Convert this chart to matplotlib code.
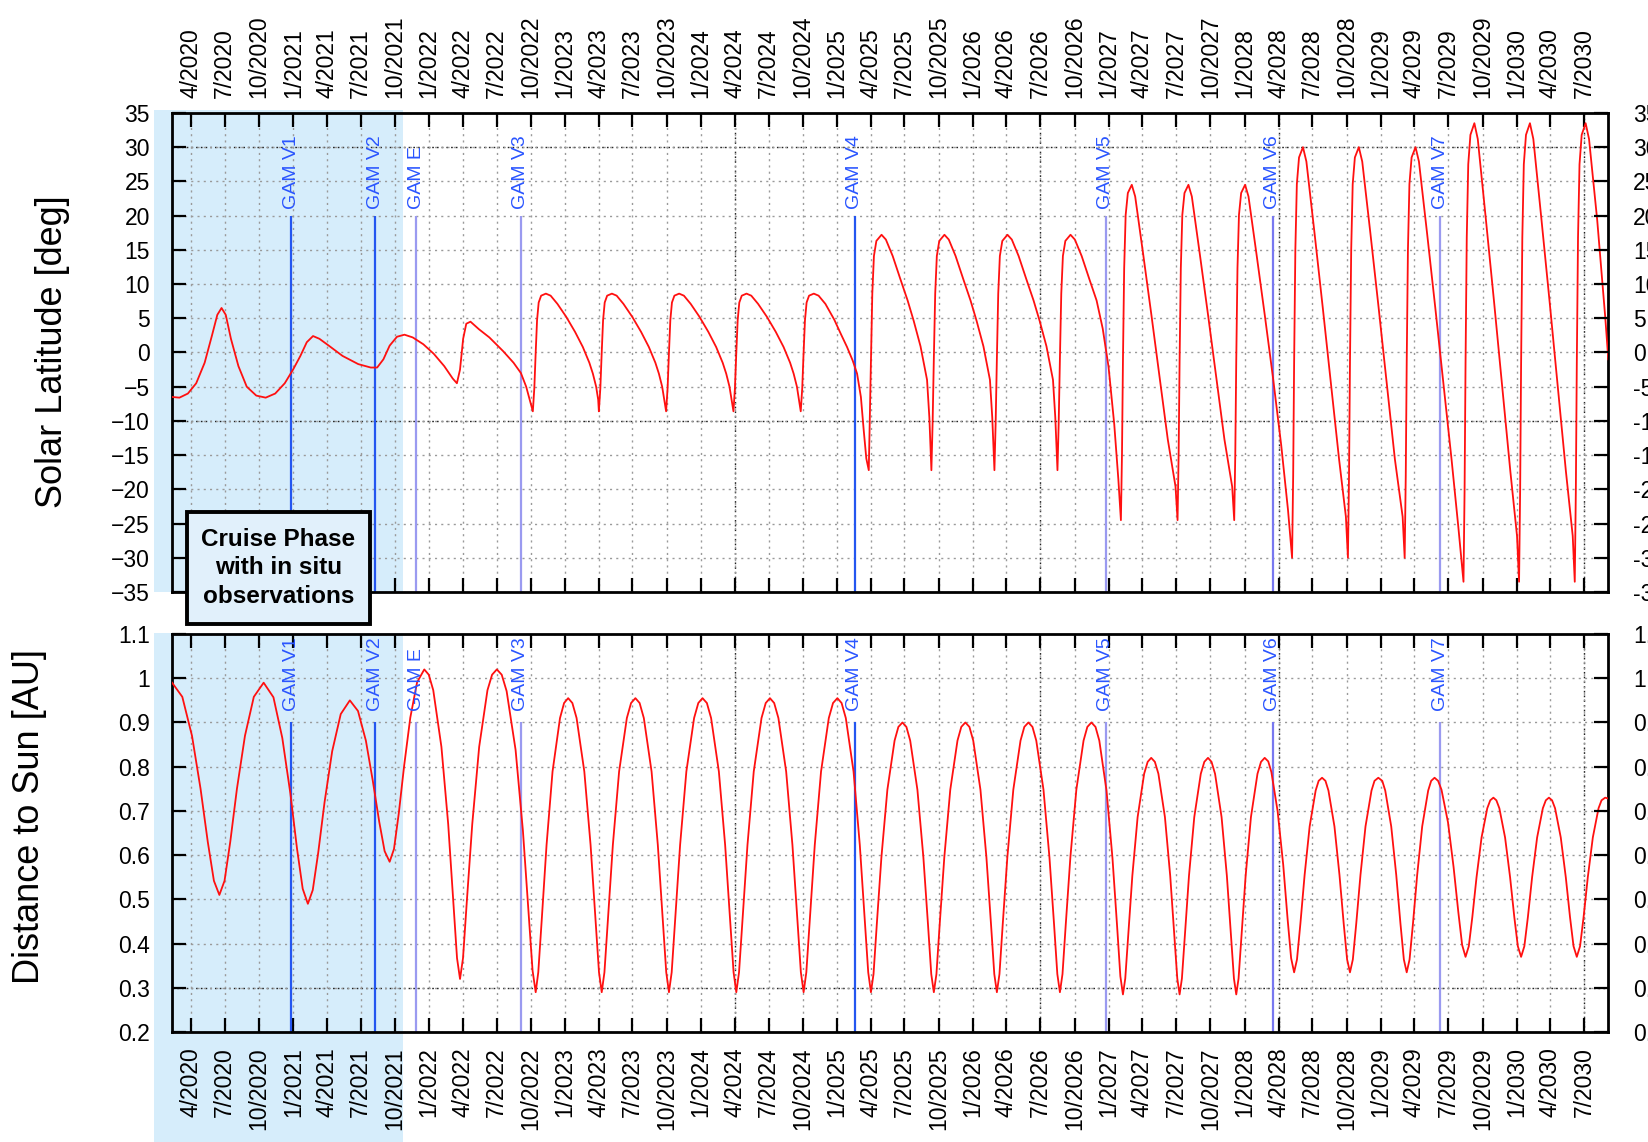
import matplotlib
matplotlib.use("Agg")
import matplotlib.pyplot as plt
import matplotlib.dates as mdates
from matplotlib.patches import Rectangle
from datetime import datetime, timedelta

plt.rcParams['font.family'] = ['Liberation Sans', 'DejaVu Sans']

# ---------------- data (time in decimal years) ----------------
lat_year = [
    2020.110, 2020.164, 2020.226, 2020.287, 2020.349, 2020.403, 2020.442, 2020.473,
    2020.504, 2020.542, 2020.597, 2020.658, 2020.728, 2020.797, 2020.867, 2020.937,
    2020.998, 2021.052, 2021.099, 2021.145, 2021.192, 2021.261, 2021.362, 2021.478,
    2021.570, 2021.617, 2021.663, 2021.709, 2021.763, 2021.818, 2021.879, 2021.957,
    2022.034, 2022.111, 2022.173, 2022.204, 2022.227, 2022.250, 2022.273, 2022.304,
    2022.366, 2022.443, 2022.544, 2022.621, 2022.675, 2022.714,
    2022.763, 2022.774, 2022.784, 2022.794, 2022.806, 2022.824, 2022.859, 2022.894,
    2022.944, 2023.009, 2023.074, 2023.131, 2023.179, 2023.205, 2023.229, 2023.244,
    2023.249, 2023.260, 2023.270, 2023.280, 2023.292, 2023.310, 2023.345, 2023.380,
    2023.430, 2023.495, 2023.560, 2023.617, 2023.665, 2023.691, 2023.715, 2023.730,
    2023.744, 2023.755, 2023.765, 2023.775, 2023.787, 2023.805, 2023.840, 2023.875,
    2023.925, 2023.990, 2024.055, 2024.112, 2024.160, 2024.186, 2024.210, 2024.225,
    2024.239, 2024.250, 2024.260, 2024.270, 2024.282, 2024.300, 2024.335, 2024.370,
    2024.420, 2024.485, 2024.550, 2024.607, 2024.655, 2024.681, 2024.705, 2024.720,
    2024.733, 2024.744, 2024.754, 2024.764, 2024.776, 2024.794, 2024.829, 2024.864,
    2024.914, 2024.979, 2025.030, 2025.073, 2025.115, 2025.147, 2025.175, 2025.196,
    2025.215,
    2025.233, 2025.240, 2025.249, 2025.259, 2025.271, 2025.289, 2025.327, 2025.359,
    2025.409, 2025.466, 2025.519, 2025.564, 2025.614, 2025.662, 2025.679,
    2025.694, 2025.703, 2025.712, 2025.722, 2025.734, 2025.752, 2025.790, 2025.822,
    2025.872, 2025.929, 2025.982, 2026.027, 2026.077, 2026.125, 2026.142,
    2026.158, 2026.167, 2026.176, 2026.186, 2026.198, 2026.216, 2026.254, 2026.286,
    2026.336, 2026.393, 2026.446, 2026.491, 2026.541, 2026.589, 2026.606,
    2026.622, 2026.631, 2026.640, 2026.650, 2026.662, 2026.680, 2026.718, 2026.750,
    2026.800, 2026.857, 2026.910, 2026.955, 2026.998, 2027.040, 2027.070,
    2027.089, 2027.097, 2027.104, 2027.113, 2027.124, 2027.140, 2027.169, 2027.194,
    2027.254, 2027.314, 2027.374, 2027.434, 2027.491,
    2027.506, 2027.514, 2027.521, 2027.530, 2027.541, 2027.557, 2027.586, 2027.611,
    2027.671, 2027.731, 2027.791, 2027.851, 2027.908,
    2027.923, 2027.931, 2027.938, 2027.947, 2027.958, 2027.974, 2028.003, 2028.028,
    2028.088, 2028.148, 2028.208, 2028.268, 2028.318,
    2028.348, 2028.356, 2028.363, 2028.372, 2028.383, 2028.399, 2028.428, 2028.453,
    2028.513, 2028.573, 2028.633, 2028.693, 2028.743,
    2028.758, 2028.766, 2028.773, 2028.782, 2028.793, 2028.809, 2028.838, 2028.863,
    2028.923, 2028.983, 2029.043, 2029.103, 2029.160,
    2029.175, 2029.183, 2029.190, 2029.199, 2029.210, 2029.226, 2029.255, 2029.280,
    2029.340, 2029.400, 2029.460, 2029.520, 2029.570,
    2029.608, 2029.616, 2029.623, 2029.632, 2029.643, 2029.659, 2029.688, 2029.713,
    2029.773, 2029.833, 2029.893, 2029.953, 2030.002,
    2030.017, 2030.025, 2030.032, 2030.041, 2030.052, 2030.068, 2030.097, 2030.122,
    2030.182, 2030.242, 2030.302, 2030.362, 2030.412,
    2030.427, 2030.435, 2030.442, 2030.451, 2030.462, 2030.478, 2030.507, 2030.532,
    2030.592, 2030.652, 2030.674,
]
lat_deg = [
    -6.5, -6.6, -6.0, -4.5, -1.5, 2.5, 5.5, 6.5,
    5.5, 2.0, -2.0, -5.0, -6.3, -6.6, -6.0, -4.5,
    -2.5, -0.5, 1.5, 2.4, 2.0, 1.0, -0.5, -1.7,
    -2.2, -2.2, -1.0, 1.0, 2.3, 2.6, 2.2, 1.2,
    -0.2, -2.0, -3.8, -4.5, -2.5, 2.0, 4.2, 4.5,
    3.4, 2.2, 0.2, -1.5, -3.0, -5.0,
    -8.6, -5.2, 0.0, 4.7, 7.3, 8.3, 8.6, 8.3,
    7.1, 5.2, 3.0, 0.8, -1.5, -3.1, -5.0, -6.9,
    -8.6, -5.2, 0.0, 4.7, 7.3, 8.3, 8.6, 8.3,
    7.1, 5.2, 3.0, 0.8, -1.5, -3.1, -5.0, -6.9,
    -8.6, -5.2, 0.0, 4.7, 7.3, 8.3, 8.6, 8.3,
    7.1, 5.2, 3.0, 0.8, -1.5, -3.1, -5.0, -6.9,
    -8.6, -5.2, 0.0, 4.7, 7.3, 8.3, 8.6, 8.3,
    7.1, 5.2, 3.0, 0.8, -1.5, -3.1, -5.0, -6.9,
    -8.6, -5.2, 0.0, 4.7, 7.3, 8.3, 8.6, 8.3,
    7.1, 4.8, 2.6, 0.8, -1.2, -3.1, -6.5, -11.4,
    -15.5,
    -17.2, -10.3, -0.9, 8.6, 14.1, 16.3, 17.2, 16.5,
    14.1, 10.7, 7.6, 4.6, 0.9, -4.0, -9.5,
    -17.2, -10.3, -0.9, 8.6, 14.1, 16.3, 17.2, 16.5,
    14.1, 10.7, 7.6, 4.6, 0.9, -4.0, -9.5,
    -17.2, -10.3, -0.9, 8.6, 14.1, 16.3, 17.2, 16.5,
    14.1, 10.7, 7.6, 4.6, 0.9, -4.0, -9.5,
    -17.2, -10.3, -0.9, 8.6, 14.1, 16.3, 17.2, 16.5,
    14.1, 10.7, 7.6, 3.5, -2.1, -10.5, -18.5,
    -24.5, -14.7, -1.2, 12.3, 20.1, 23.3, 24.5, 22.8,
    14.2, 5.4, -3.7, -12.7, -19.6,
    -24.5, -14.7, -1.2, 12.3, 20.1, 23.3, 24.5, 22.8,
    14.2, 5.4, -3.7, -12.7, -19.6,
    -24.5, -14.7, -1.2, 12.3, 20.1, 23.3, 24.5, 22.8,
    14.2, 5.4, -3.7, -13.5, -23.0,
    -30.0, -18.0, -1.5, 15.0, 24.6, 28.5, 30.0, 27.9,
    17.4, 6.6, -4.5, -15.6, -24.0,
    -30.0, -18.0, -1.5, 15.0, 24.6, 28.5, 30.0, 27.9,
    17.4, 6.6, -4.5, -15.6, -24.0,
    -30.0, -18.0, -1.5, 15.0, 24.6, 28.5, 30.0, 27.9,
    17.4, 6.6, -4.5, -15.6, -25.5,
    -33.5, -20.1, -1.7, 16.8, 27.5, 31.8, 33.5, 31.2,
    19.4, 7.4, -5.0, -17.4, -26.8,
    -33.5, -20.1, -1.7, 16.8, 27.5, 31.8, 33.5, 31.2,
    19.4, 7.4, -5.0, -17.4, -26.8,
    -33.5, -20.1, -1.7, 16.8, 27.5, 31.8, 33.5, 31.2,
    19.4, 5.0, -1.0,
]

dist_year = [
    2020.110, 2020.185, 2020.256, 2020.319, 2020.372, 2020.417, 2020.457, 2020.495,
    2020.537, 2020.586, 2020.645, 2020.710, 2020.782,
    2020.854, 2020.919, 2020.978, 2021.027, 2021.069, 2021.107, 2021.143, 2021.183,
    2021.230, 2021.286, 2021.349, 2021.416,
    2021.476, 2021.534, 2021.585, 2021.632, 2021.672, 2021.709, 2021.741, 2021.776,
    2021.816, 2021.861, 2021.911, 2021.964,
    2021.997, 2022.030, 2022.090, 2022.140, 2022.178, 2022.205, 2022.227, 2022.249,
    2022.277, 2022.317, 2022.368, 2022.429, 2022.463, 2022.498,
    2022.534, 2022.570, 2022.636, 2022.690, 2022.731, 2022.761, 2022.784, 2022.803,
    2022.829, 2022.864, 2022.908, 2022.963, 2022.993, 2023.023,
    2023.054, 2023.085, 2023.142, 2023.188, 2023.224, 2023.250, 2023.270, 2023.290,
    2023.316, 2023.352, 2023.398, 2023.455, 2023.486, 2023.518,
    2023.549, 2023.580, 2023.637, 2023.683, 2023.719, 2023.745, 2023.765, 2023.785,
    2023.811, 2023.847, 2023.893, 2023.950, 2023.981, 2024.012,
    2024.044, 2024.075, 2024.132, 2024.178, 2024.214, 2024.240, 2024.260, 2024.280,
    2024.306, 2024.342, 2024.388, 2024.445, 2024.476, 2024.507,
    2024.538, 2024.569, 2024.626, 2024.672, 2024.708, 2024.734, 2024.754, 2024.774,
    2024.800, 2024.836, 2024.882, 2024.939, 2024.970, 2025.002,
    2025.033, 2025.064, 2025.121, 2025.167, 2025.203, 2025.229, 2025.249, 2025.268,
    2025.292, 2025.326, 2025.370, 2025.423, 2025.451, 2025.481,
    2025.510, 2025.538, 2025.591, 2025.635, 2025.669, 2025.693, 2025.712, 2025.731,
    2025.755, 2025.789, 2025.833, 2025.886, 2025.914, 2025.944,
    2025.974, 2026.002, 2026.055, 2026.099, 2026.133, 2026.157, 2026.176, 2026.195,
    2026.219, 2026.253, 2026.297, 2026.350, 2026.378, 2026.408,
    2026.438, 2026.466, 2026.519, 2026.563, 2026.597, 2026.621, 2026.640, 2026.659,
    2026.683, 2026.717, 2026.761, 2026.814, 2026.842, 2026.872,
    2026.902, 2026.930, 2026.983, 2027.027, 2027.061, 2027.085, 2027.104, 2027.121,
    2027.143, 2027.173, 2027.212, 2027.260, 2027.286, 2027.312,
    2027.339, 2027.365, 2027.413, 2027.452, 2027.482, 2027.504, 2027.521, 2027.538,
    2027.560, 2027.590, 2027.629, 2027.677, 2027.703, 2027.730,
    2027.756, 2027.782, 2027.830, 2027.869, 2027.899, 2027.921, 2027.938, 2027.955,
    2027.977, 2028.007, 2028.046, 2028.094, 2028.120, 2028.147,
    2028.173, 2028.196, 2028.242, 2028.283, 2028.315, 2028.341, 2028.363, 2028.384,
    2028.409, 2028.440, 2028.477, 2028.521, 2028.543, 2028.568,
    2028.593, 2028.615, 2028.659, 2028.696, 2028.727, 2028.752, 2028.773, 2028.794,
    2028.819, 2028.850, 2028.887, 2028.931, 2028.953, 2028.981,
    2029.010, 2029.032, 2029.076, 2029.113, 2029.144, 2029.169, 2029.190, 2029.211,
    2029.236, 2029.267, 2029.304, 2029.348, 2029.370, 2029.395,
    2029.421, 2029.446, 2029.494, 2029.535, 2029.570, 2029.598, 2029.623, 2029.647,
    2029.673, 2029.704, 2029.741, 2029.783, 2029.805, 2029.828,
    2029.850, 2029.872, 2029.914, 2029.951, 2029.982, 2030.008, 2030.032, 2030.056,
    2030.082, 2030.113, 2030.150, 2030.192, 2030.214, 2030.237,
    2030.260, 2030.282, 2030.324, 2030.361, 2030.392, 2030.418, 2030.442, 2030.466,
    2030.492, 2030.523, 2030.560, 2030.602, 2030.624, 2030.651, 2030.674,
]
dist_au = [
    0.990, 0.958, 0.870, 0.750, 0.630, 0.542, 0.510, 0.542,
    0.630, 0.750, 0.870, 0.958, 0.990,
    0.957, 0.865, 0.740, 0.615, 0.524, 0.490, 0.521, 0.605,
    0.720, 0.835, 0.919, 0.950,
    0.926, 0.859, 0.768, 0.676, 0.609, 0.585, 0.614, 0.694,
    0.803, 0.911, 0.991, 1.020,
    1.008, 0.973, 0.845, 0.670, 0.495, 0.367, 0.320, 0.367,
    0.495, 0.670, 0.845, 0.973, 1.008, 1.020,
    1.008, 0.971, 0.838, 0.655, 0.473, 0.339, 0.290, 0.335,
    0.456, 0.623, 0.789, 0.910, 0.944, 0.955,
    0.944, 0.910, 0.789, 0.623, 0.456, 0.335, 0.290, 0.335,
    0.456, 0.623, 0.789, 0.910, 0.944, 0.955,
    0.944, 0.910, 0.789, 0.623, 0.456, 0.335, 0.290, 0.335,
    0.456, 0.623, 0.789, 0.910, 0.944, 0.955,
    0.944, 0.910, 0.789, 0.623, 0.456, 0.335, 0.290, 0.335,
    0.456, 0.623, 0.789, 0.910, 0.944, 0.955,
    0.944, 0.910, 0.789, 0.623, 0.456, 0.335, 0.290, 0.335,
    0.456, 0.623, 0.789, 0.910, 0.944, 0.955,
    0.944, 0.910, 0.789, 0.623, 0.456, 0.335, 0.290, 0.331,
    0.443, 0.595, 0.748, 0.859, 0.890, 0.900,
    0.890, 0.859, 0.748, 0.595, 0.443, 0.331, 0.290, 0.331,
    0.443, 0.595, 0.748, 0.859, 0.890, 0.900,
    0.890, 0.859, 0.748, 0.595, 0.443, 0.331, 0.290, 0.331,
    0.443, 0.595, 0.748, 0.859, 0.890, 0.900,
    0.890, 0.859, 0.748, 0.595, 0.443, 0.331, 0.290, 0.331,
    0.443, 0.595, 0.748, 0.859, 0.890, 0.900,
    0.890, 0.859, 0.746, 0.593, 0.439, 0.326, 0.285, 0.321,
    0.419, 0.553, 0.686, 0.784, 0.811, 0.820,
    0.811, 0.784, 0.686, 0.553, 0.419, 0.321, 0.285, 0.321,
    0.419, 0.553, 0.686, 0.784, 0.811, 0.820,
    0.811, 0.784, 0.686, 0.553, 0.419, 0.321, 0.285, 0.321,
    0.419, 0.553, 0.686, 0.784, 0.811, 0.820,
    0.812, 0.788, 0.699, 0.578, 0.456, 0.367, 0.335, 0.364,
    0.445, 0.555, 0.665, 0.746, 0.768, 0.775,
    0.768, 0.746, 0.665, 0.555, 0.445, 0.364, 0.335, 0.364,
    0.445, 0.555, 0.665, 0.746, 0.768, 0.775,
    0.768, 0.746, 0.665, 0.555, 0.445, 0.364, 0.335, 0.364,
    0.445, 0.555, 0.665, 0.746, 0.768, 0.775,
    0.768, 0.748, 0.674, 0.573, 0.471, 0.397, 0.370, 0.394,
    0.460, 0.550, 0.640, 0.706, 0.724, 0.730,
    0.724, 0.706, 0.640, 0.550, 0.460, 0.394, 0.370, 0.394,
    0.460, 0.550, 0.640, 0.706, 0.724, 0.730,
    0.724, 0.706, 0.640, 0.550, 0.460, 0.394, 0.370, 0.394,
    0.460, 0.550, 0.640, 0.706, 0.724, 0.730, 0.728,
]

gam_names = ['GAM V1', 'GAM V2', 'GAM E', 'GAM V3', 'GAM V4', 'GAM V5', 'GAM V6', 'GAM V7']
gam_dates = ['2020-12-27', '2021-08-09', '2021-11-27', '2022-09-04',
             '2025-02-18', '2026-12-24', '2028-03-17', '2029-06-10']
gam_colors = ['#2456f0', '#2456f0', '#9a9af0', '#9a9af0',
              '#2456f0', '#9a9af0', '#7878f0', '#9a9af0']

t_start = '2020-02-10'
t_end = '2030-09-03'
cruise_end = '2021-10-23'
lat_ticks = list(range(-35, 36, 5))
dist_ticks = [0.2, 0.3, 0.4, 0.5, 0.6, 0.7, 0.8, 0.9, 1.0, 1.1]
dist_labels = ['0.2', '0.3', '0.4', '0.5', '0.6', '0.7', '0.8', '0.9', '1', '1.1']

# grid lines that print darker in the original
dark_x = ['2024-04-01', '2026-07-01', '2028-04-01', '2030-07-01']
dark_lat = [30, -10]
dark_dist = [0.3]


def year_to_date(y):
    yr = int(y)
    start = datetime(yr, 1, 1)
    ndays = (datetime(yr + 1, 1, 1) - start).days
    return start + timedelta(days=(y - yr) * ndays)


def to_dt(s):
    return datetime.strptime(s, '%Y-%m-%d')


lat_t = [year_to_date(y) for y in lat_year]
dist_t = [year_to_date(y) for y in dist_year]
gam_t = [to_dt(d) for d in gam_dates]

shade = '#d6edfb'
grid_col = '#9a9a9a'
tick_kw = dict(direction='in', length=10, width=1.6, labelsize=16.5)

fig = plt.figure(figsize=(16.49, 11.42), dpi=100)
ax1 = fig.add_axes([0.1043, 0.4816, 0.8708, 0.4195])
ax2 = fig.add_axes([0.1043, 0.0963, 0.8708, 0.3485])


def quarter_fmt(x, pos):
    d = mdates.num2date(x)
    return f"{d.month}/{d.year}"


for ax in (ax1, ax2):
    ax.set_facecolor('none')
    ax.set_xlim(to_dt(t_start), to_dt(t_end))
    ax.xaxis.set_major_locator(mdates.MonthLocator(bymonth=[1, 4, 7, 10]))
    ax.xaxis.set_major_formatter(plt.FuncFormatter(quarter_fmt))
    ax.tick_params(axis='both', which='major', top=True, bottom=True, left=True,
                   right=True, labelleft=True, labelright=False, **tick_kw)
    ax.tick_params(axis='y', pad=16)
    ax.tick_params(axis='x', labelrotation=90, pad=11)
    ax.grid(True, linestyle=(0, (1.5, 3.0)), color=grid_col, linewidth=1.0)
    for s in ax.spines.values():
        s.set_linewidth(2.0)
    for d in dark_x:
        ax.axvline(to_dt(d), color='#222222', linestyle=(0, (1.2, 2.2)), linewidth=1.0,
                   zorder=1)

ax1.tick_params(axis='x', labeltop=True, labelbottom=False)
ax2.tick_params(axis='x', labeltop=False, labelbottom=True)

# latitude
ax1.set_ylim(-35, 35)
ax1.set_yticks(lat_ticks)
for v in dark_lat:
    ax1.axhline(v, color='#222222', linestyle=(0, (1.2, 2.2)), linewidth=1.0, zorder=1)
ax1.plot(lat_t, lat_deg, color='#ff1010', linewidth=1.3, zorder=3)

# distance
ax2.set_ylim(0.2, 1.1)
ax2.set_yticks(dist_ticks)
ax2.set_yticklabels(dist_labels)
for v in dark_dist:
    ax2.axhline(v, color='#222222', linestyle=(0, (1.2, 2.2)), linewidth=1.0, zorder=1)
ax2.plot(dist_t, dist_au, color='#ff1010', linewidth=1.3, zorder=3)

# right-hand tick labels sit a bit further out (cut by the figure edge)
for ax, ticks, labels in ((ax1, lat_ticks, [str(v) for v in lat_ticks]),
                          (ax2, dist_ticks, dist_labels)):
    axr = ax.twinx()
    axr.set_facecolor('none')
    axr.set_ylim(ax.get_ylim())
    axr.set_yticks(ticks)
    axr.set_yticklabels(labels)
    axr.tick_params(axis='y', pad=18, **tick_kw)
    for s in axr.spines.values():
        s.set_visible(False)

# gravity assist markers
for name, t, c in zip(gam_names, gam_t, gam_colors):
    ax1.vlines(t, -35, 20, color=c, linewidth=1.6, zorder=2)
    ax1.text(t, 21, name, rotation=90, ha='center', va='bottom', color='#2a55ff',
             fontsize=14)
    ax2.vlines(t, 0.2, 0.9, color=c, linewidth=1.6, zorder=2)
    ax2.text(t, 0.926, name, rotation=90, ha='center', va='bottom', color='#2a55ff',
             fontsize=14)

fig.text(0.032, 0.692, 'Solar Latitude [deg]', rotation=90, ha='center', va='center',
         fontsize=26)
fig.text(0.018, 0.285, 'Distance to Sun [AU]', rotation=90, ha='center', va='center',
         fontsize=26)

# cruise phase shading (extends left of the axes and below the bottom panel)
fig.canvas.draw()
x_end = fig.transFigure.inverted().transform(
    ax1.transData.transform((mdates.date2num(to_dt(cruise_end)), 0)))[0]
x_left = 0.0934
fig.patches.append(Rectangle((x_left, 0.4816), x_end - x_left, 0.9037 - 0.4816,
                             transform=fig.transFigure, facecolor=shade, edgecolor='none',
                             zorder=-5))
fig.patches.append(Rectangle((x_left, 0.0), x_end - x_left, 0.4457,
                             transform=fig.transFigure, facecolor=shade, edgecolor='none',
                             zorder=-5))

# cruise phase box
fig.patches.append(Rectangle((0.1134, 0.4536), 0.1110, 0.0981, transform=fig.transFigure,
                             facecolor='#e1f0fb', edgecolor='black', linewidth=2.8,
                             zorder=5))
fig.text(0.1689, 0.5027, 'Cruise Phase\nwith in situ\nobservations', ha='center',
         va='center', fontsize=17.5, fontweight='bold', linespacing=1.3, zorder=6)

fig.savefig('out.png', dpi=100)
